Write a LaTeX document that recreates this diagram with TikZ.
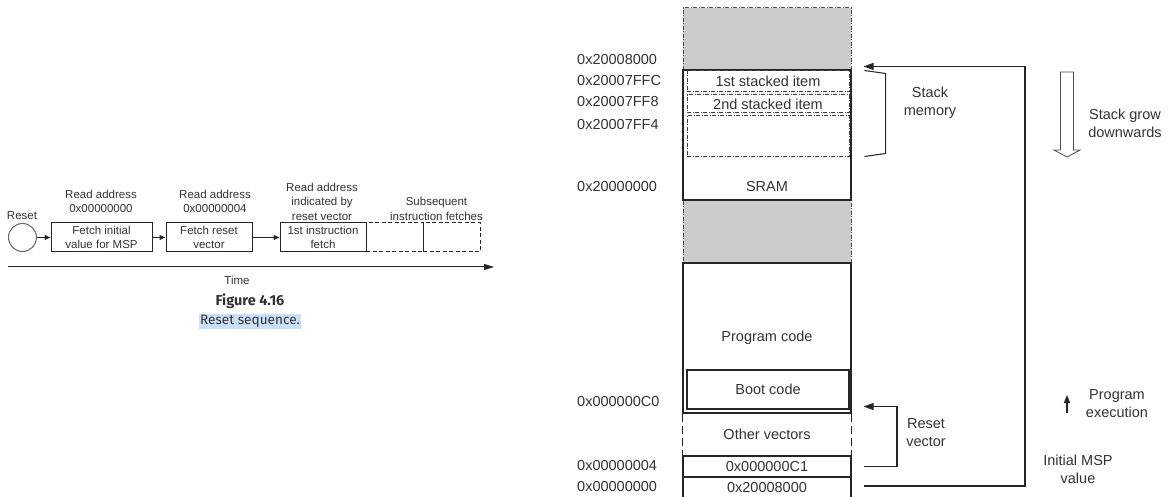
\documentclass[tikz,border=0pt]{standalone}
\usepackage{fontspec}
\setmainfont{Liberation Sans}
\newfontfamily\capfont{Fira Sans}
\usetikzlibrary{arrows.meta,calc}
\newcommand{\memfs}{\fontsize{14.5}{18}\selectfont}
\newcommand{\seqfs}{\fontsize{11.5}{14.5}\selectfont}
\definecolor{hl}{HTML}{CCE0F8}
\definecolor{txc}{HTML}{333333}
\tikzset{
  txt/.style={inner sep=0pt, align=center, font=\memfs, text=txc},
  addr/.style={inner sep=0pt, anchor=west, font=\memfs, text=txc},
  mem/.style={draw=black!85, line width=1.1pt, minimum width=168pt, inner sep=0pt, font=\memfs, text=txc},
  grayreg/.style={draw=black!70, fill=black!20, line width=1pt, minimum width=168pt, inner sep=0pt,
     dash pattern=on 4pt off 1.5pt on 1pt off 1.5pt},
  item/.style={draw=black!75, line width=1pt, minimum width=162pt, inner sep=0pt, font=\memfs, text=txc,
     dash pattern=on 4pt off 1.5pt on 1pt off 1.5pt},
  conn/.style={draw=black!85, line width=1.1pt, -{Triangle[length=10pt,width=7pt]}},
  plain/.style={draw=black!85, line width=1.1pt},
  vdash/.style={draw=black!85, line width=1.1pt, dash pattern=on 8pt off 4pt},
  seqbox/.style={draw=black!85, line width=1pt, minimum height=29pt, inner sep=0pt, align=center, font=\seqfs, text=txc},
  seqdash/.style={seqbox, dash pattern=on 4pt off 2.5pt},
  seqlbl/.style={inner sep=0pt, align=center, font=\seqfs, text=txc},
  seqarr/.style={draw=black!85, line width=1pt, -{Triangle[length=6pt,width=5pt]}},
}
\begin{document}
\begin{tikzpicture}[x=1pt,y=-1pt]
\useasboundingbox (0,0) rectangle (1171,497);
\fill[white] (0,0) rectangle (1171,497);

% ---------------- Left: reset sequence ----------------
\node[draw=black!60, line width=1pt, circle, minimum size=28pt, inner sep=0pt] (reset) at (22.5,237.5) {};
\node[seqlbl] (resetlbl) at (22,216) {Reset};
\node[seqbox, minimum width=101pt] (f1) at (101.5,237.5) {Fetch initial\\value for MSP};
\node[seqbox, minimum width=86pt] (f2) at (209,237.5) {Fetch reset\\vector};
\node[seqbox, minimum width=86pt] (f3) at (323,237.5) {1st instruction\\fetch};
\node[seqdash, minimum width=57pt] (f4) at (394.5,237.5) {};
\node[seqdash, minimum width=57pt] (f5) at (451.5,237.5) {};
\draw[seqarr] (reset) -- (f1);
\draw[seqarr] (f1) -- (f2);
\draw[seqarr] (f2) -- (f3);
\node[seqlbl] (l1) at (101,201.5) {Read address\\0x00000000};
\node[seqlbl] (l2) at (215,201.5) {Read address\\0x00000004};
\node[seqlbl] (l3) at (322,201.5) {Read address\\indicated by\\reset vector};
\node[seqlbl] (l4) at (436.5,209) {Subsequent\\instruction fetches};
\coordinate (t0) at (8,267);
\coordinate (t1) at (494,267);
\draw[draw=black!85, line width=1pt, -{Triangle[length=10pt,width=6pt]}] (t0) -- (t1);
\node[seqlbl] (time) at (237,280) {Time};
\node[inner sep=0pt, font=\capfont\bfseries\fontsize{14.5}{16}\selectfont, text=txc] (fig) at (250,301) {Figure 4.16};
\node[inner sep=1.5pt, fill=hl, font=\capfont\fontsize{13.6}{15}\selectfont, text=txc, minimum height=15pt] (cap) at (250,321.5) {Reset sequence.};

% ---------------- Right: memory map ----------------
\node[grayreg, minimum height=62pt] (topgray) at (767,39) {};
\node[grayreg, minimum height=63pt] (gray2) at (767,231.5) {};
\node[mem, minimum height=130pt] (sram) at (767,135) {};
\node[txt] (sramlbl) at (767,187) {SRAM};
\node[item, minimum height=21pt] (item1) at (768,81.5) {1st stacked item};
\node[item, minimum height=18pt] (item2) at (768,104) {2nd stacked item};
\node[item, minimum height=41pt] (item3) at (768,136.5) {};
\node[mem, minimum height=150pt] (prog) at (767,338) {Program code};
\node[mem, minimum width=162pt, minimum height=39pt] (boot) at (768,389.5) {Boot code};
\node[txt] (other) at (767,434) {Other vectors};
\node[mem, minimum height=21pt] (vec1) at (767,466.5) {0x000000C1};
\node[mem, minimum height=22pt] (vec0) at (767,488) {0x20008000};
\draw[vdash] (prog.south west) -- (prog.south west |- vec1.north);
\draw[vdash] (prog.south east) -- (prog.south east |- vec1.north);

% address labels
\node[addr] (a1) at (577,60) {0x20008000};
\node[addr] (a2) at (577,81) {0x20007FFC};
\node[addr] (a3) at (577,102) {0x20007FF8};
\node[addr] (a4) at (577,125) {0x20007FF4};
\node[addr] (a5) at (577,187) {0x20000000};
\node[addr] (a6) at (577,402) {0x000000C0};
\node[addr] (a7) at (577,466) {0x00000004};
\node[addr] (a8) at (577,487) {0x00000000};

% initial MSP connector
\coordinate (mspS) at ($(vec0.east)+(12,-2)$);
\coordinate (mspT) at ($(sram.north east)+(12,-3)$);
\coordinate (mspR) at (1025,0);
\draw[conn] (mspS) -- (mspS -| mspR) -- (mspT -| mspR) -- (mspT);

% reset vector connector
\coordinate (rvS) at ($(vec1.east)+(12,0)$);
\coordinate (rvT) at ($(prog.south east)+(12,-7)$);
\coordinate (rvR) at (897,0);
\draw[conn] (rvS) -- (rvS -| rvR) -- (rvT -| rvR) -- (rvT);

% stack memory bracket
\coordinate (b1) at ($(item1.north east)+(15,0)$);
\coordinate (b2) at ($(item1.north east)+(36,3)$);
\coordinate (b3) at ($(item3.south east)+(36,-4)$);
\coordinate (b4) at ($(item3.south east)+(15,-1)$);
\draw[plain, line width=1pt] (b1) -- (b2) -- (b3) -- (b4);

% hollow down arrow
\draw[draw=black!70, line width=0.8pt, fill=white] (1060.5,72) -- (1073.5,72) -- (1073.5,150) -- (1080,150)
  -- (1067,157) -- (1054,150) -- (1060.5,150) -- cycle;

% program execution arrow
\coordinate (pe0) at (1067,413);
\coordinate (pe1) at (1067,395);
\draw[conn, line width=1.2pt, -{Triangle[length=8pt,width=6pt]}] (pe0) -- (pe1);

% side labels
\node[txt] (stackmem) at (930,103) {Stack\\memory};
\node[txt] (grow) at (1125,123.5) {Stack grow\\downwards};
\node[txt] (progex) at (1117,404) {Program\\execution};
\node[txt] (rvlbl) at (926,433) {Reset\\vector};
\node[txt] (msplbl) at (1078,469.5) {Initial MSP\\value};
\end{tikzpicture}
\end{document}
